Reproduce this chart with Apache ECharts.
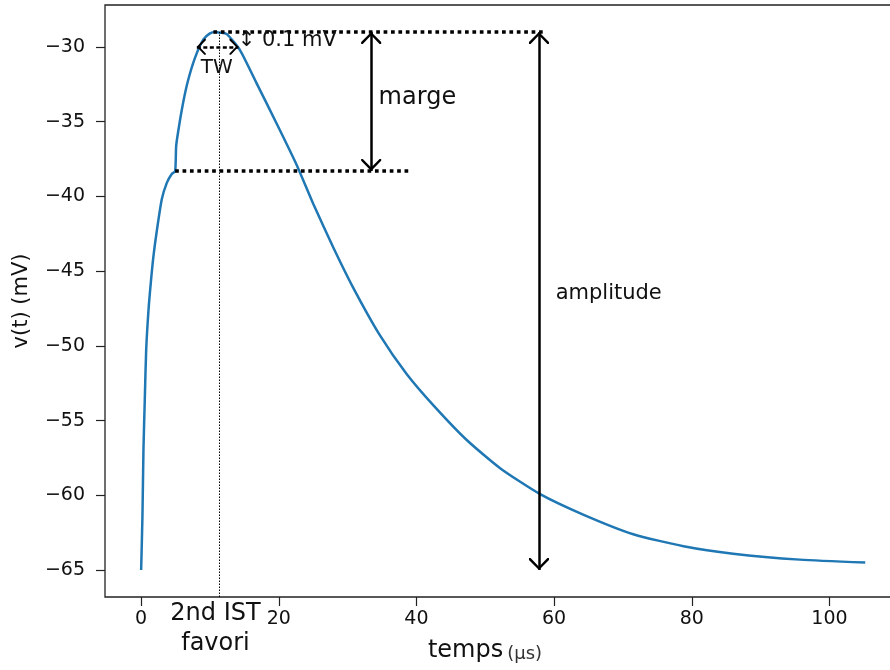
<!DOCTYPE html>
<html>
<head>
<meta charset="utf-8">
<script src="https://cdn.jsdelivr.net/npm/echarts@6/dist/echarts.min.js"></script>
<style>
    body{ margin:0; background:#fff; }
    #potentiel{ width:890px; height:670px; }
</style>
</head>
<body>
<div id="potentiel"></div>
<script>
// courbe v(t)
const temps = [0, 0.19, 0.34, 0.53, 0.73, 1.07, 1.4, 1.79, 2.28, 3.0, 3.73, 4.45, 4.94,
    5.08, 5.27, 5.91, 6.73, 7.85, 9.05, 10.0, 10.75, 11.5, 12.45, 14.38, 16.8, 19.7, 22.6,
    25.0, 27.9, 30.8, 34.7, 38.6, 42.5, 47.3, 52.2, 57.9, 64.3, 71.5, 78.8, 86.0, 95.7, 105.2];
const tension = [-65, -61.4, -56.9, -53.6, -50.3, -47.6, -45.8, -44.0, -42.3, -40.2, -39.1, -38.5, -38.33,
    -36.7, -36.0, -34.2, -32.4, -30.7, -29.5, -29.1, -29.0, -29.05, -29.15, -30.23, -32.46, -35.14, -37.9,
    -40.5, -43.4, -46.1, -49.3, -51.9, -54.0, -56.3, -58.2, -59.9, -61.3, -62.6, -63.4, -63.9, -64.3, -64.5];

const xTicks = [0, 20, 40, 60, 80, 100];
const yTicks = [-65, -60, -55, -50, -45, -40, -35, -30];

// niveaux et repères des annotations
const vPic = -29.0, vPlateau = -38.3, vRepos = -65, vTW = -30.0;
const tPic = 10.5, tPlateau = 4.94, tIST = 11.38;
const finPic = 58.4, finPlateau = 39.1;
const tMarge = 33.42, tAmp = 57.8;
const twDebut = 8.09, twFin = 14.14;

const xMin = -5.25, xMax = 110.25, yMin = -66.8, yMax = -27.2;

const police = 'DejaVu Sans';
const noir = '#111';
// pointe de flèche ouverte (moitié haute vide pour que la pointe tombe au bout du trait)
const chevron = 'path://M50,0L50.1,0Z M50,50L100,92L100,100L92,100L50,64L8,100L0,100L0,92Z';

let myChart = echarts.init(document.getElementById('potentiel'));

myChart.setOption({
    animation: false,
    backgroundColor: '#fff',
    grid: {
        left: 105,
        right: -10,
        top: 5,
        bottom: 73,
        show: true,
        borderColor: '#222',
        borderWidth: 1.3,
        containLabel: false,
        outerBoundsMode: 'none'
    },
    xAxis: {
        type: 'value',
        min: xMin,
        max: xMax,
        name: '{a|temps}{b|(μs)}',
        nameLocation: 'middle',
        nameGap: 42,
        nameTextStyle: {
            padding: [0, 35, 0, 0],
            rich: {
                a: { fontFamily: police, fontSize: 24, color: noir },
                b: { fontFamily: police, fontSize: 18, color: '#333', padding: [0, 0, 0, 4], verticalAlign: 'bottom' }
            }
        },
        splitLine: { show: false },
        axisLine: { show: false, onZero: false },
        axisTick: { show: true, length: 9, customValues: xTicks, lineStyle: { color: '#222', width: 1.2 } },
        axisLabel: {
            customValues: xTicks,
            margin: 13,
            fontFamily: police,
            fontSize: 19,
            color: noir
        }
    },
    yAxis: {
        type: 'value',
        min: yMin,
        max: yMax,
        name: 'v(t) (mV)',
        nameLocation: 'middle',
        nameGap: 73,
        nameTextStyle: { fontFamily: police, fontSize: 21, color: noir },
        splitLine: { show: false },
        axisLine: { show: false, onZero: false },
        axisTick: { show: true, length: 9, customValues: yTicks, lineStyle: { color: '#222', width: 1.2 } },
        axisLabel: {
            customValues: yTicks,
            margin: 20,
            fontFamily: police,
            fontSize: 19,
            color: noir,
            formatter: function (v) {
                return String(v).replace('-', '\u2212');
            }
        }
    },
    series: [
        {
            name: 'v(t)',
            type: 'line',
            data: temps.map(function (t, i) { return [t, tension[i]]; }),
            showSymbol: false,
            smooth: 0.2,
            lineStyle: { color: '#1f77b4', width: 2.5 },
            z: 3
        },
        {
            name: 'niveaux',
            type: 'line',
            data: [],
            markLine: {
                silent: true,
                symbol: 'none',
                label: { show: false },
                lineStyle: { color: '#000', width: 3.5, type: [3.7, 3.7], cap: 'butt' },
                data: [
                    [{ coord: [tPic, vPic] }, { coord: [finPic, vPic] }],
                    [{ coord: [tPlateau, vPlateau] }, { coord: [finPlateau, vPlateau] }]
                ]
            }
        },
        {
            name: 'IST',
            type: 'line',
            data: [],
            markLine: {
                silent: true,
                symbol: 'none',
                lineStyle: { color: '#000', width: 1, type: [1.5, 1.5] },
                label: {
                    show: true,
                    position: 'start',
                    distance: 2,
                    formatter: '2nd IST\nfavori',
                    fontFamily: police,
                    fontSize: 24,
                    lineHeight: 30,
                    color: noir,
                    padding: [0, 8, 0, 0]
                },
                data: [
                    [{ coord: [tIST, yMin] }, { coord: [tIST, vPic] }]
                ]
            }
        },
        {
            name: 'fleches',
            type: 'line',
            data: [],
            markLine: {
                silent: true,
                symbol: [chevron, chevron],
                symbolSize: [20, 24],
                label: { show: false },
                lineStyle: { color: '#000', width: 2.5, type: 'solid' },
                data: [
                    [{ coord: [tMarge, vPic] }, { coord: [tMarge, vPlateau] }],
                    [{ coord: [tAmp, vPic] }, { coord: [tAmp, vRepos] }]
                ]
            }
        },
        {
            name: 'TW',
            type: 'line',
            data: [],
            markLine: {
                silent: true,
                symbol: [chevron, chevron],
                symbolSize: [16, 18],
                label: { show: false },
                lineStyle: { color: '#000', width: 2.5, type: [4, 2.5] },
                data: [
                    [{ coord: [twDebut, vTW] }, { coord: [twFin, vTW] }]
                ]
            }
        },
        {
            name: 'textes',
            type: 'scatter',
            symbolSize: 1,
            itemStyle: { color: 'rgba(0,0,0,0)', opacity: 1 },
            silent: true,
            z: 5,
            label: {
                show: true,
                position: 'right',
                distance: 0,
                fontFamily: police,
                color: noir,
                opacity: 1,
                formatter: function (p) { return p.name; }
            },
            data: [
                { name: 'marge', value: [34.43, -33.38], label: { fontSize: 24 } },
                { name: 'amplitude', value: [60.15, -46.49], label: { fontSize: 21 } },
                { name: '\u2195 0.1 mV', value: [13.95, -29.59], label: { fontSize: 21 } },
                { name: 'TW', value: [11.0, -31.38], label: { fontSize: 20, position: 'inside' } }
            ]
        }
    ]
});
</script>
</body>
</html>
